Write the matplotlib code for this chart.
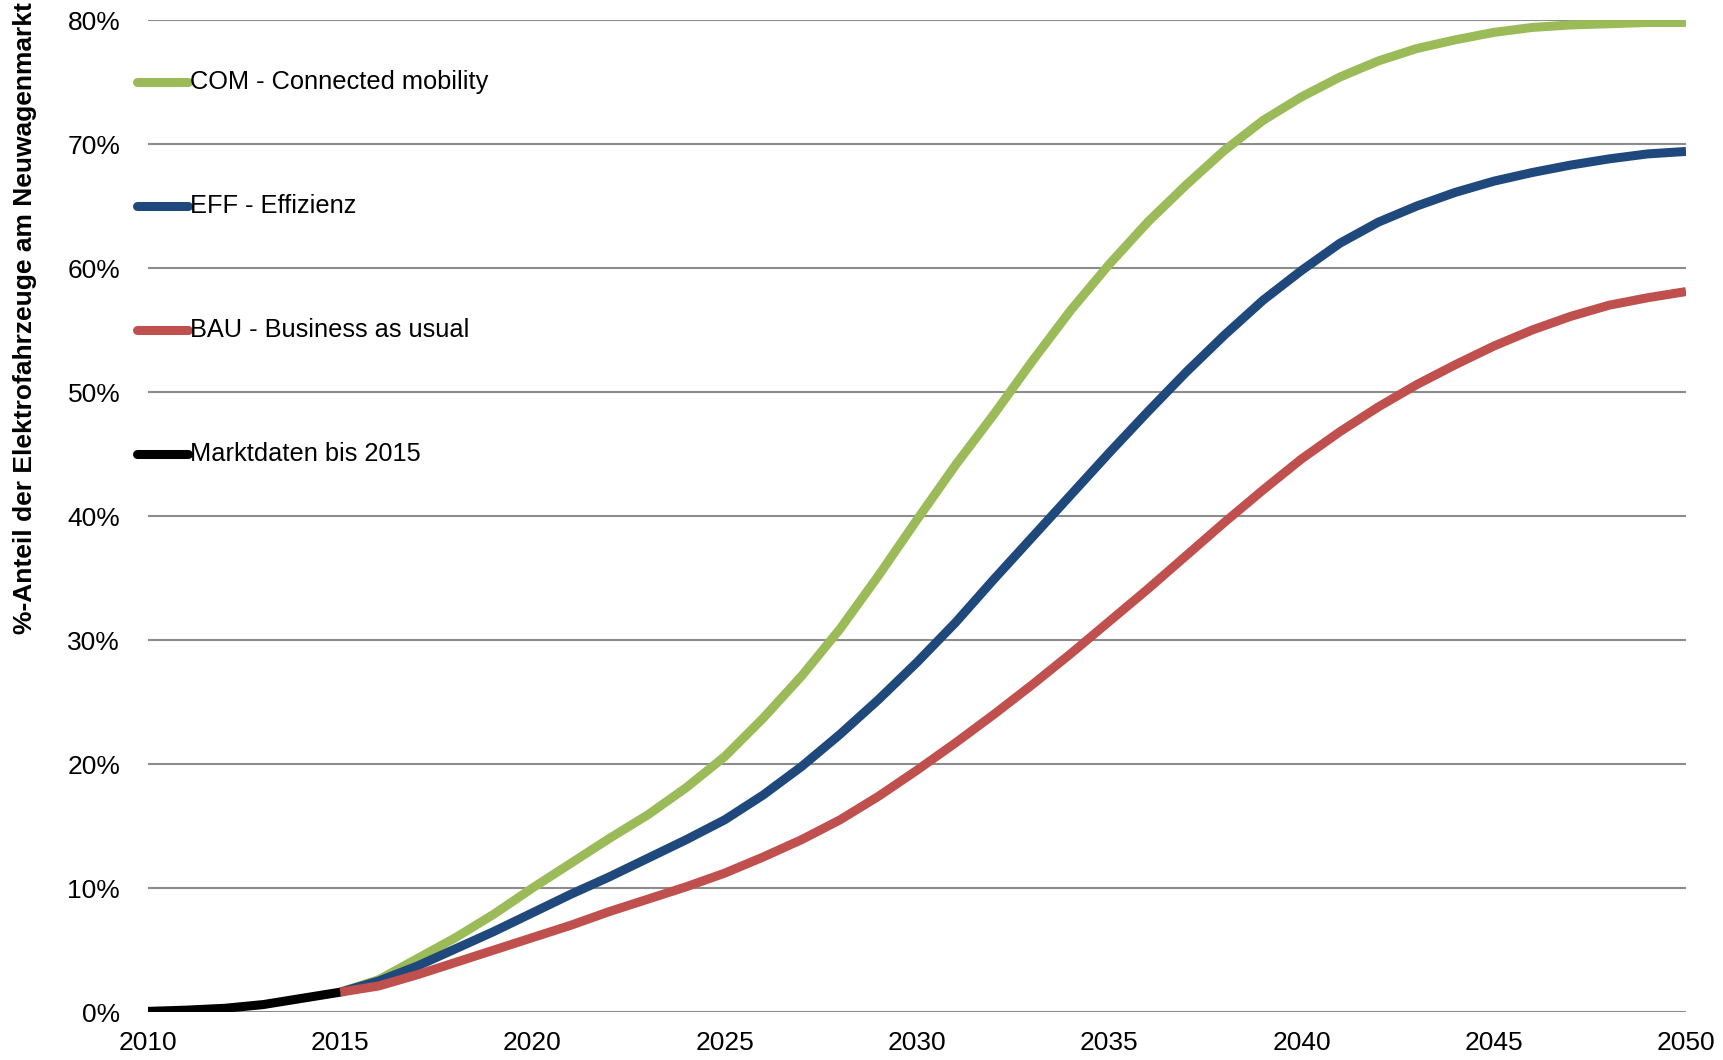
import matplotlib
matplotlib.use("Agg")
import matplotlib.pyplot as plt
from matplotlib.lines import Line2D
from matplotlib.ticker import FuncFormatter

plt.rcParams['font.family'] = ['Liberation Sans', 'DejaVu Sans']

years_hist = [2010, 2011, 2012, 2013, 2014, 2015]
markt = [0.05, 0.15, 0.3, 0.6, 1.1, 1.6]

years = list(range(2015, 2051))
com = [1.6, 2.6, 4.3, 6.0, 7.9, 10.0, 12.0, 14.0, 15.9, 18.1, 20.6, 23.7, 27.1, 30.9,
       35.2, 39.7, 44.1, 48.2, 52.5, 56.6, 60.3, 63.7, 66.7, 69.5, 71.9, 73.8, 75.4,
       76.7, 77.7, 78.4, 79.0, 79.4, 79.6, 79.7, 79.8, 79.8]
eff = [1.6, 2.5, 3.7, 5.1, 6.5, 8.0, 9.5, 10.9, 12.4, 13.9, 15.5, 17.5, 19.8, 22.4,
       25.2, 28.2, 31.4, 34.9, 38.3, 41.7, 45.1, 48.4, 51.6, 54.6, 57.4, 59.8, 62.0,
       63.7, 65.0, 66.1, 67.0, 67.7, 68.3, 68.8, 69.2, 69.4]
bau = [1.6, 2.1, 3.0, 4.0, 5.0, 6.0, 7.0, 8.1, 9.1, 10.1, 11.2, 12.5, 13.9, 15.5,
       17.4, 19.5, 21.7, 24.0, 26.4, 28.9, 31.5, 34.1, 36.8, 39.5, 42.1, 44.6, 46.8,
       48.8, 50.6, 52.2, 53.7, 55.0, 56.1, 57.0, 57.6, 58.1]

labels = ["COM - Connected mobility", "EFF - Effizienz", "BAU - Business as usual",
          "Marktdaten bis 2015"]
colors = ["#9BBB59", "#1F497D", "#C0504D", "#000000"]
ylabel = "%-Anteil der Elektrofahrzeuge am Neuwagenmarkt"
xticks = [2010, 2015, 2020, 2025, 2030, 2035, 2040, 2045, 2050]
yticks = [0, 10, 20, 30, 40, 50, 60, 70, 80]

fig = plt.figure(figsize=(17.24, 10.6), dpi=100)
ax = fig.add_axes([148/1724, 1 - 1012/1060, (1686 - 148)/1724, (1012 - 20)/1060])

lw = 6.5
ax.plot(years, com, color=colors[0], lw=lw, solid_capstyle='butt', zorder=3)
ax.plot(years, eff, color=colors[1], lw=lw, solid_capstyle='butt', zorder=4)
ax.plot(years, bau, color=colors[2], lw=lw, solid_capstyle='butt', zorder=5)
ax.plot(years_hist, markt, color=colors[3], lw=lw, solid_capstyle='butt', zorder=6)

ax.set_xlim(2010, 2050)
ax.set_ylim(0, 80)
ax.set_xticks(xticks)
ax.set_yticks(yticks)
ax.yaxis.set_major_formatter(FuncFormatter(lambda v, p: f"{int(v)}%"))
ax.grid(axis='y', color='#8C8C8C', lw=1.5, zorder=1)
ax.set_axisbelow(True)
for s in ax.spines.values():
    s.set_visible(False)
ax.tick_params(axis='both', length=0, labelsize=19)
ax.tick_params(axis='y', pad=20)
ax.tick_params(axis='x', pad=14)
for lab in ax.get_xticklabels() + ax.get_yticklabels():
    lab.set_clip_on(False)

# legend placed inside the plot area
leg_y = [75, 65, 55, 45]
for lbl, c, yv in zip(labels, colors, leg_y):
    ax.add_line(Line2D([2009.72, 2011.04], [yv, yv], color=c, lw=lw,
                       solid_capstyle='round', clip_on=False, zorder=7))
    ax.text(2011.1, yv, lbl, fontsize=18.3, va='center', ha='left', zorder=7)

fig.text(25/1724, 1 - 318/1060, ylabel, rotation=90, fontsize=19,
         fontweight='bold', va='center', ha='center')

fig.savefig("out.png", dpi=100)
